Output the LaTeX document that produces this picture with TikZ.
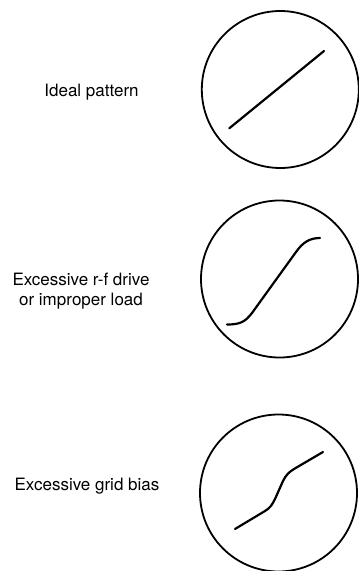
\documentclass[tikz,border=0pt]{standalone}
\usepackage{fontspec}
\setmainfont{TeX Gyre Heros}
\usepackage{tikz}
\usetikzlibrary{calc}

\begin{document}
\begin{tikzpicture}[x=1pt, y=-1pt,
    screen/.style={draw, circle, line width=1.8pt, inner sep=0pt, minimum size=157pt},
    trace/.style={line width=2.2pt, line cap=round, line join=round},
    caption/.style={font=\fontsize{17}{19.5}\selectfont, inner sep=0pt, align=center}]

  \useasboundingbox (0,0) rectangle (359,571);

  % Ideal pattern
  \node[caption, anchor=base] (lblideal) at (91.5,96) {Ideal pattern};
  \node[screen] (scrideal) at (280.3,89.5) {};
  \draw[trace] (229.3,128.3) -- (324,51);

  % Excessive r-f drive
  \node[caption] (lbldrive) at (81,291) {Excessive r-f drive\\or improper load};
  \node[screen] (scrdrive) at (279.5,279) {};
  \draw[trace] (227,324.5) .. controls (240,324.5) and (245,322) .. (252,313)
    -- (296,252) .. controls (303,242) and (310,238) .. (320,238);

  % Excessive grid bias
  \node[caption, anchor=base] (lblbias) at (87,490) {Excessive grid bias};
  \node[screen] (scrbias) at (278.5,493) {};
  \draw[trace] (235,529) -- (265,511) .. controls (270,508) and (272,505) .. (275,499)
    -- (283,481) .. controls (286,475) and (289,472) .. (294,469) -- (323,452);

\end{tikzpicture}
\end{document}
